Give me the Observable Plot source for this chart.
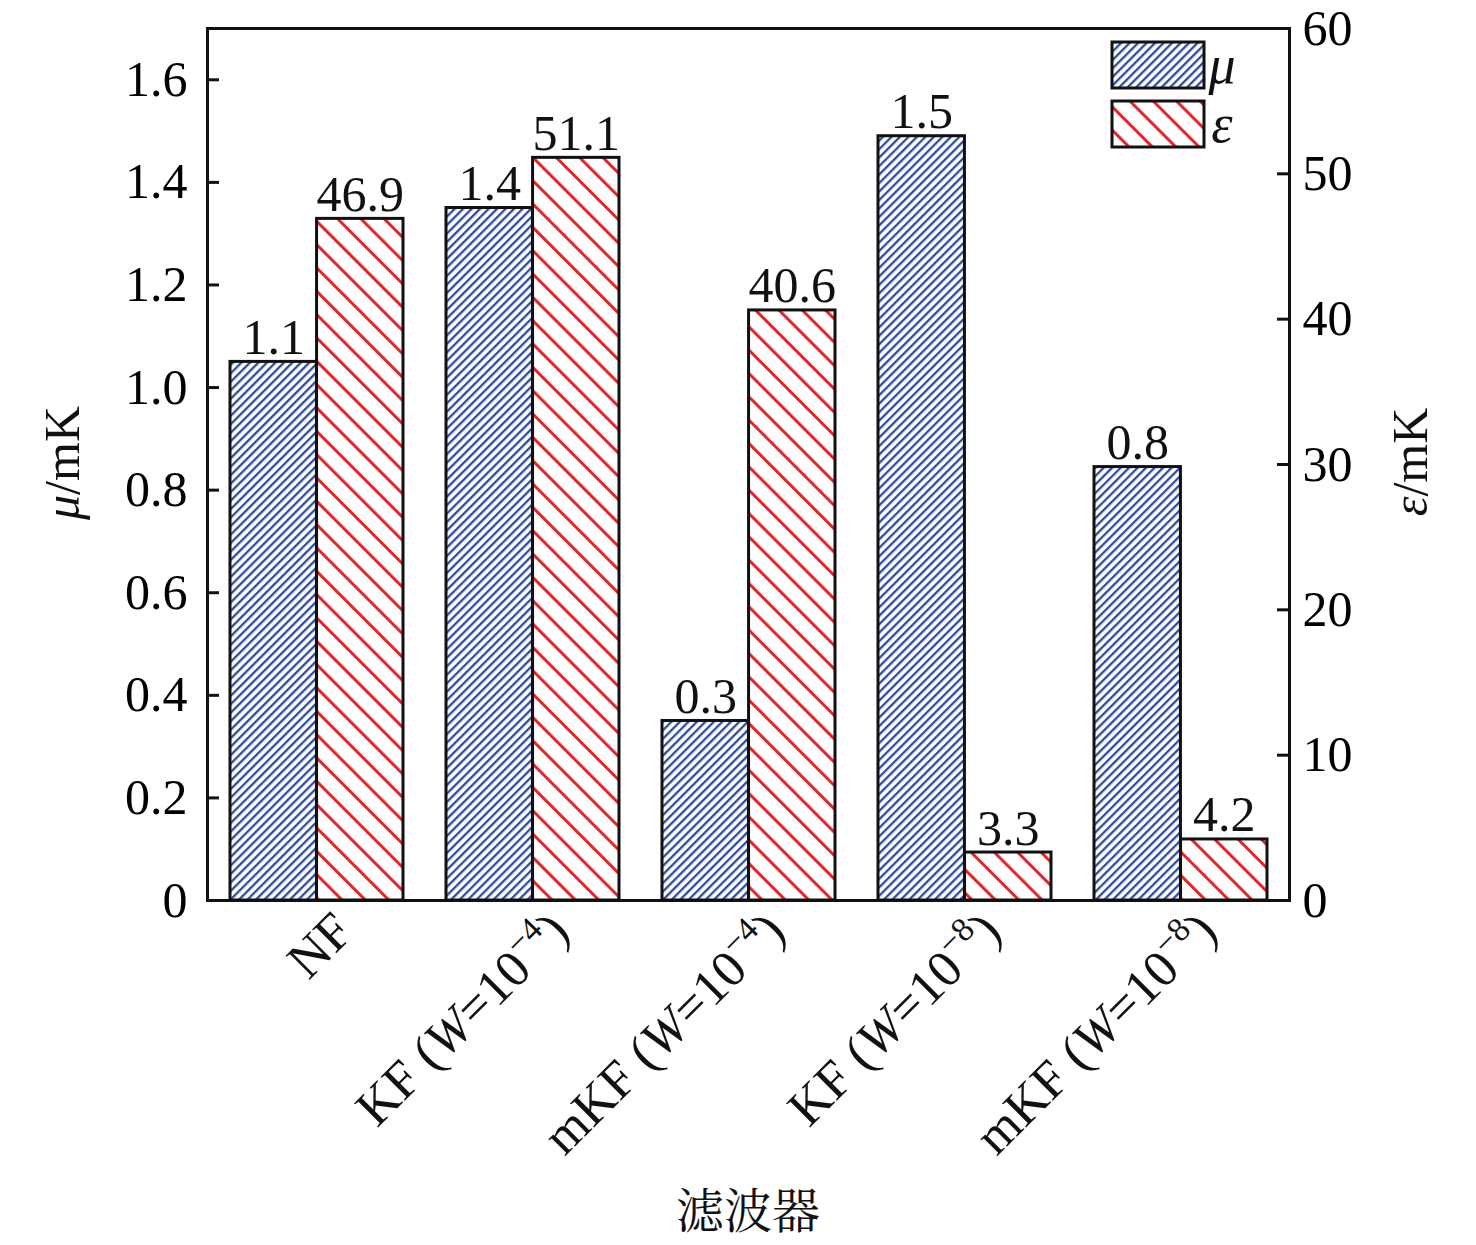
<!DOCTYPE html>
<html><head><meta charset="utf-8">
<script src="https://cdn.jsdelivr.net/npm/d3@7"></script>
<script src="https://cdn.jsdelivr.net/npm/@observablehq/plot@0.6"></script>
<style>body{margin:0;background:#fff;}</style>
</head><body><div id="chart"></div>
<script>
// ---- data ----
const filterNames = ["NF", "KF", "mKF", "KF", "mKF"];
const filterExp = ["", "−4", "−4", "−8", "−8"];
const filters = filterNames.map((n, i) => filterExp[i] ? `${n} (W=10^${filterExp[i]})` : n);
const muValues = [1.05, 1.35, 0.35, 1.49, 0.845];
const muLabels = ["1.1", "1.4", "0.3", "1.5", "0.8"];
const epsValues = [46.9, 51.1, 40.6, 3.3, 4.2];
const epsLabels = ["46.9", "51.1", "40.6", "3.3", "4.2"];
const leftTicks = [0, 0.2, 0.4, 0.6, 0.8, 1.0, 1.2, 1.4, 1.6];
const rightTicks = [0, 10, 20, 30, 40, 50, 60];
const muMax = 1.7, epsMax = 60;

// ---- layout ----
const W = 1476, H = 1245, mL = 207, mR = 187, mT = 28, mB = 345;
const frameW = W - mL - mR;
const step = frameW / (5 - 0.2 + 0.2);
const bw = step * 0.8, half = bw / 2;
const k = muMax / epsMax;
const FONT = "'Liberation Serif','Times New Roman',serif";
const FS = 50;

const plot = Plot.plot({
  width: W, height: H,
  marginLeft: mL, marginRight: mR, marginTop: mT, marginBottom: mB,
  style: {fontFamily: FONT, fontSize: FS + "px", background: "#fff", color: "#000"},
  x: {domain: filters, paddingInner: 0.2, paddingOuter: 0.1, axis: null},
  y: {domain: [0, muMax], axis: null},
  marks: [
    Plot.barY(filters, {x: d => d, y: (d, i) => muValues[i], insetRight: half,
      fill: "url(#hatchBlue)", stroke: "#111", strokeWidth: 3}),
    Plot.barY(filters, {x: d => d, y: (d, i) => epsValues[i] * k, insetLeft: half,
      fill: "url(#hatchRed)", stroke: "#111", strokeWidth: 3}),
    Plot.text(filters, {x: d => d, y: (d, i) => muValues[i], text: (d, i) => muLabels[i],
      dx: -half / 2, dy: -8, lineAnchor: "bottom", fontSize: FS, fill: "#111"}),
    Plot.text(filters, {x: d => d, y: (d, i) => epsValues[i] * k, text: (d, i) => epsLabels[i],
      dx: half / 2, dy: -8, lineAnchor: "bottom", fontSize: FS, fill: "#111"}),
    Plot.frame({stroke: "#111", strokeWidth: 3}),
    Plot.axisY(leftTicks, {anchor: "left", tickSize: 0, tickPadding: 20, label: null,
      tickFormat: d => d === 0 ? "0" : d.toFixed(1), fontSize: FS}),
    Plot.tickY(leftTicks, {y: d => d, insetRight: frameW - 12, stroke: "#111", strokeWidth: 3}),
    Plot.axisY(rightTicks.map(v => v * k), {anchor: "right", tickSize: 0, tickPadding: 13, label: null,
      tickFormat: d => String(Math.round(d / k)), fontSize: FS}),
    Plot.tickY(rightTicks.map(v => v * k), {y: d => d, insetLeft: frameW - 12, stroke: "#111", strokeWidth: 3})
  ]
});

document.getElementById("chart").appendChild(plot);

const svg = d3.select(plot);
const defs = svg.insert("defs", ":first-child");
function hatch(id, color, spacing, lw, angle) {
  const p = defs.append("pattern").attr("id", id).attr("patternUnits", "userSpaceOnUse")
    .attr("width", spacing).attr("height", 20).attr("patternTransform", `rotate(${angle})`);
  p.append("rect").attr("width", spacing).attr("height", 20).attr("fill", "#fff");
  p.append("rect").attr("x", 0).attr("y", 0).attr("width", lw).attr("height", 20).attr("fill", color);
}
hatch("hatchBlue", "#2e4b9c", 6, 2.3, 45);
hatch("hatchRed", "#e2262b", 16.5, 3, -45);

// x tick labels (rotated, with italic W and superscript)
const xs = plot.scale("x");
const gx = svg.append("g").attr("font-family", FONT).attr("font-size", 52).attr("fill", "#111");
filters.forEach((f, i) => {
  const cx = xs.apply(f) + xs.bandwidth / 2;
  const t = gx.append("text").attr("text-anchor", "end")
    .attr("transform", `translate(${cx + 39},${934}) rotate(-45)`);
  if (!filterExp[i]) { t.text(filterNames[i]); return; }
  t.append("tspan").text(filterNames[i] + " (");
  t.append("tspan").attr("font-style", "italic").text("W");
  t.append("tspan").text("=10");
  t.append("tspan").attr("font-size", 34).attr("dy", -21).text(filterExp[i]);
  t.append("tspan").attr("dy", 21).text(")");
});

// axis titles
const lt = svg.append("text").attr("font-family", FONT).attr("font-size", 50).attr("fill", "#111")
  .attr("text-anchor", "middle").attr("dominant-baseline", "central")
  .attr("transform", `translate(62,463) rotate(-90)`);
lt.append("tspan").attr("font-style", "italic").text("μ");
lt.append("tspan").text("/mK");
const rt = svg.append("text").attr("font-family", FONT).attr("font-size", 50).attr("fill", "#111")
  .attr("text-anchor", "middle").attr("dominant-baseline", "central")
  .attr("transform", `translate(1410,462) rotate(-90)`);
rt.append("tspan").attr("font-style", "italic").text("ε");
rt.append("tspan").text("/mK");
svg.append("text").attr("font-family", "'Noto Serif CJK SC','Noto Sans CJK SC',serif").attr("font-size", 48)
  .attr("fill", "#111").attr("text-anchor", "middle").attr("dominant-baseline", "central")
  .attr("x", mL + frameW / 2).attr("y", 1207).text("滤波器");

// legend
const lg = svg.append("g");
[["hatchBlue", "μ", 42], ["hatchRed", "ε", 101]].forEach(([id, s, y]) => {
  lg.append("rect").attr("x", 1112).attr("y", y).attr("width", 92).attr("height", 46)
    .attr("fill", `url(#${id})`).attr("stroke", "#111").attr("stroke-width", 3);
  lg.append("text").attr("x", 1222).attr("y", y + 23).attr("dominant-baseline", "central")
    .attr("font-family", FONT).attr("font-style", "italic").attr("font-size", 54).attr("fill", "#111").text(s);
});
</script>
</body></html>
